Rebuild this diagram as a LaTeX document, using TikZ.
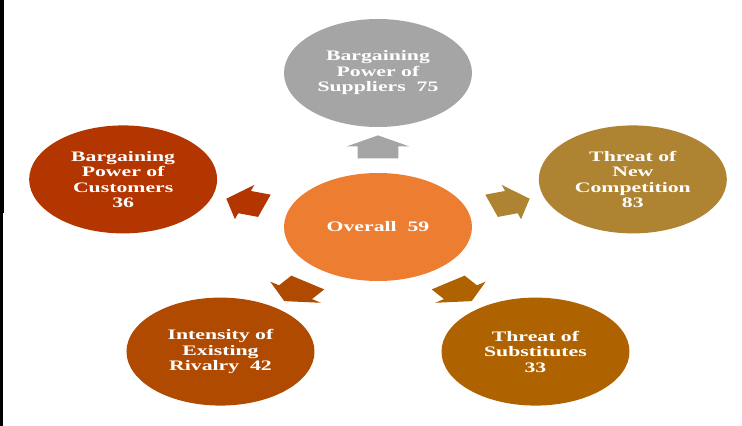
\documentclass[tikz,border=0pt]{standalone}
\usepackage{fontspec}
\setmainfont[FakeStretch=1.5]{Liberation Serif}
\usetikzlibrary{calc,positioning,shapes.geometric,shapes.arrows}

\definecolor{ovcol}{HTML}{ED7D31}
\definecolor{supcol}{HTML}{A5A5A5}
\definecolor{cuscol}{HTML}{B33500}
\definecolor{newcol}{HTML}{AE8332}
\definecolor{intcol}{HTML}{B04A00}
\definecolor{subcol}{HTML}{AE6300}

\begin{document}
\begin{tikzpicture}[x=1pt, y=1pt, xscale=1.74,
  force/.style={ellipse, minimum width=188pt, minimum height=108pt, inner sep=0pt,
    text=white, align=center, font=\bfseries\fontsize{14.5}{15.5}\selectfont},
  push/.style={single arrow, transform shape, inner xsep=0pt, inner ysep=11.5pt,
    minimum height=23pt, single arrow head extend=6.3pt, single arrow tip angle=117}]
\useasboundingbox (-217.24,-199) rectangle (209.20,227);

% border left over from the screenshot
\fill[black] (-217.24,227) rectangle (-214.94,14);
\fill[black] (-217.24,14) rectangle (-215.52,-199);

\node[force, fill=ovcol] (ov) at (0,0) {Overall~ 59};
\foreach \ang/\name/\col/\disp in {{90/sup/supcol/{Bargaining\\Power of\\Suppliers~ 75}}, {162/cus/cuscol/{Bargaining\\Power of\\Customers\\36}}, {18/new/newcol/{Threat of\\New\\Competition\\83}}, {234/int/intcol/{Intensity of\\Existing\\Rivalry~ 42}}, {306/sub/subcol/{Threat of\\Substitutes\\33}}}
\node[force, fill=\col] (\name) at (\ang:154) {\disp};

% Arrows from the centre out to each force
\foreach \ang/\dest/\col in {90/sup/supcol, 162/cus/cuscol, 18/new/newcol, 234/int/intcol, 306/sub/subcol}
\node[push, fill=\col, rotate=\ang] at ($(ov)!0.497!(\dest)$) {};

\end{tikzpicture}
\end{document}
